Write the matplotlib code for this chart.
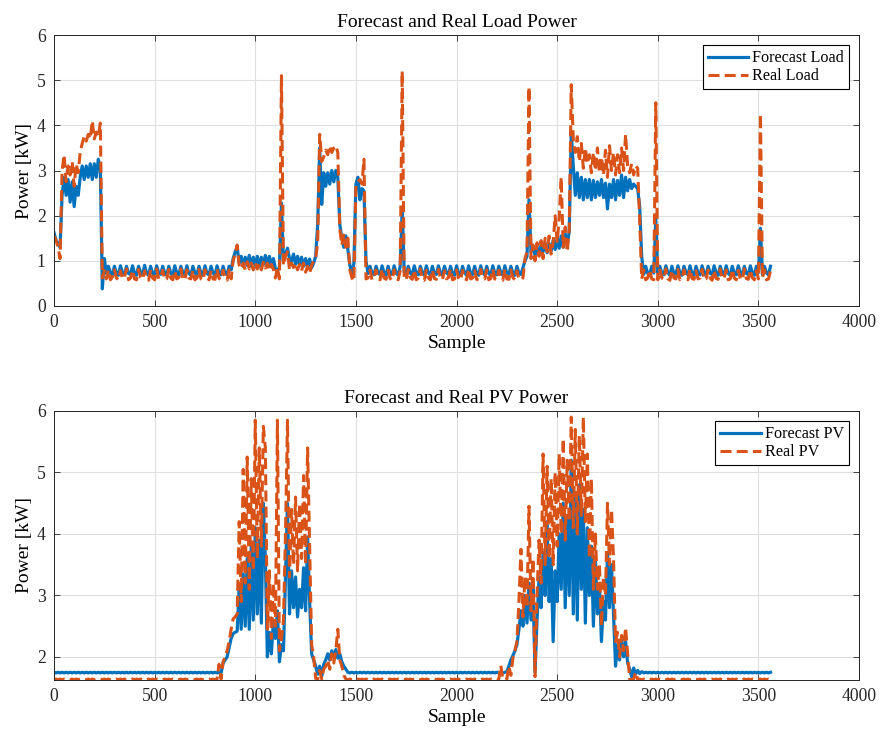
import numpy as np
import matplotlib.pyplot as plt

plt.rcParams['font.family'] = ['Liberation Serif', 'DejaVu Serif']

# sample index (every 10th sample)
sample = np.arange(0, 3570, 10)

load_forecast = [
    1.62, 1.45, 1.38, 1.30, 2.45, 2.85, 2.45, 2.80, 2.30, 2.75,   # 0
    2.20, 2.65, 2.45, 2.85, 3.10, 2.80, 3.10, 2.85, 3.15, 2.80,   # 100
    3.15, 2.85, 3.25, 3.05, 0.38, 1.05, 0.72, 0.88, 0.74, 0.69,   # 200
    0.88, 0.73, 0.68, 0.89, 0.74, 0.69, 0.88, 0.72, 0.70, 0.89,   # 300
    0.73, 0.68, 0.88, 0.74, 0.69, 0.90, 0.73, 0.68, 0.88, 0.72,   # 400
    0.69, 0.89, 0.74, 0.70, 0.88, 0.73, 0.68, 0.88, 0.72, 0.69,   # 500
    0.89, 0.73, 0.68, 0.88, 0.74, 0.69, 0.89, 0.72, 0.68, 0.88,   # 600
    0.73, 0.69, 0.88, 0.74, 0.68, 0.89, 0.72, 0.69, 0.88, 0.73,   # 700
    0.68, 0.89, 0.74, 0.69, 0.88, 0.72, 0.70, 0.88, 0.80, 1.05,   # 800
    1.20, 1.30, 0.95, 1.10, 0.88, 1.08, 0.90, 1.12, 0.88, 1.08,   # 900
    0.90, 1.10, 0.88, 1.08, 0.92, 1.12, 0.88, 1.10, 0.90, 1.05,   # 1000
    0.82, 0.78, 0.86, 2.28, 1.00, 1.15, 1.28, 1.05, 0.98, 1.15,   # 1100
    0.92, 1.10, 0.90, 1.08, 0.88, 1.05, 0.86, 1.04, 0.85, 0.95,   # 1200
    1.10, 1.80, 3.50, 2.25, 2.95, 2.65, 2.95, 2.70, 3.00, 2.75,   # 1300
    3.00, 2.85, 1.80, 1.50, 1.30, 1.55, 1.25, 0.90, 0.72, 0.95,   # 1400
    2.70, 2.85, 2.35, 2.60, 2.55, 1.00, 0.72, 0.88, 0.73, 0.69,   # 1500
    0.88, 0.74, 0.69, 0.89, 0.73, 0.68, 0.88, 0.72, 0.70, 0.89,   # 1600
    0.73, 0.68, 0.88, 2.15, 0.74, 0.69, 0.88, 0.73, 0.68, 0.89,   # 1700
    0.72, 0.69, 0.88, 0.74, 0.68, 0.89, 0.73, 0.69, 0.88, 0.72,   # 1800
    0.70, 0.89, 0.73, 0.68, 0.88, 0.74, 0.69, 0.88, 0.72, 0.68,   # 1900
    0.89, 0.73, 0.69, 0.88, 0.74, 0.68, 0.89, 0.72, 0.70, 0.88,   # 2000
    0.73, 0.68, 0.89, 0.74, 0.69, 0.88, 0.72, 0.68, 0.89, 0.73,   # 2100
    0.69, 0.88, 0.74, 0.68, 0.89, 0.72, 0.70, 0.88, 0.73, 0.68,   # 2200
    0.88, 0.73, 0.70, 0.85, 1.00, 1.10, 2.35, 1.20, 1.32, 1.12,   # 2300
    1.30, 1.15, 1.35, 1.20, 1.40, 1.18, 1.38, 1.22, 1.45, 1.25,   # 2400
    1.50, 1.28, 1.55, 1.30, 1.60, 1.35, 1.65, 3.85, 3.10, 2.45,   # 2500
    2.95, 2.40, 2.85, 2.35, 2.80, 2.40, 2.80, 2.35, 2.78, 2.40,   # 2600
    2.75, 2.45, 2.80, 2.40, 2.72, 2.15, 2.70, 2.40, 2.80, 2.35,   # 2700
    2.78, 2.45, 2.90, 2.40, 2.85, 2.55, 2.80, 2.60, 2.70, 2.65,   # 2800
    2.60, 2.20, 1.10, 0.70, 0.88, 0.72, 0.69, 0.88, 0.73, 1.92,   # 2900
    0.72, 0.88, 0.73, 0.69, 0.89, 0.74, 0.68, 0.88, 0.72, 0.70,   # 3000
    0.89, 0.73, 0.68, 0.88, 0.74, 0.69, 0.89, 0.72, 0.68, 0.88,   # 3100
    0.73, 0.69, 0.89, 0.74, 0.68, 0.88, 0.72, 0.70, 0.89, 0.73,   # 3200
    0.68, 0.88, 0.74, 0.69, 0.89, 0.72, 0.68, 0.88, 0.73, 0.69,   # 3300
    0.89, 0.74, 0.68, 0.88, 0.72, 0.70, 0.89, 0.73, 0.68, 0.88,   # 3400
    0.74, 1.72, 0.70, 0.88, 0.73, 0.69, 0.88,                     # 3500
]

load_real = [
    1.55, 1.45, 1.30, 1.05, 3.00, 3.35, 2.75, 3.10, 2.90, 3.20,   # 0
    2.65, 3.15, 2.95, 3.40, 3.60, 3.75, 3.65, 3.80, 3.70, 4.10,   # 100
    3.70, 3.85, 3.75, 4.05, 0.62, 0.78, 0.60, 0.80, 0.58, 0.64,   # 200
    0.80, 0.62, 0.58, 0.78, 0.60, 0.64, 0.82, 0.58, 0.62, 0.79,   # 300
    0.60, 0.58, 0.81, 0.63, 0.59, 0.78, 0.61, 0.57, 0.80, 0.62,   # 400
    0.58, 0.82, 0.60, 0.64, 0.79, 0.58, 0.60, 0.81, 0.62, 0.58,   # 500
    0.78, 0.60, 0.63, 0.82, 0.59, 0.58, 0.80, 0.62, 0.60, 0.79,   # 600
    0.58, 0.62, 0.81, 0.60, 0.57, 0.80, 0.63, 0.58, 0.78, 0.60,   # 700
    0.59, 0.82, 0.61, 0.58, 0.79, 0.62, 0.57, 0.80, 0.60, 1.00,   # 800
    1.15, 1.35, 0.90, 0.82, 0.95, 0.80, 0.98, 0.82, 0.95, 0.80,   # 900
    0.96, 0.82, 0.94, 0.80, 0.97, 0.84, 0.95, 0.78, 0.92, 0.82,   # 1000
    0.62, 0.85, 0.60, 5.10, 0.90, 1.10, 1.20, 0.80, 0.95, 0.85,   # 1100
    0.95, 0.80, 0.92, 0.78, 0.95, 0.75, 0.88, 0.72, 0.90, 1.00,   # 1200
    1.05, 1.40, 3.80, 3.20, 3.30, 3.45, 3.35, 3.55, 3.40, 3.50,   # 1300
    3.55, 3.40, 1.70, 1.35, 1.60, 1.30, 1.50, 0.80, 0.62, 0.55,   # 1400
    2.70, 2.75, 2.80, 2.70, 3.25, 0.60, 0.62, 0.80, 0.58, 0.62,   # 1500
    0.80, 0.60, 0.58, 0.82, 0.62, 0.59, 0.79, 0.61, 0.57, 0.80,   # 1600
    0.62, 0.58, 0.78, 5.20, 0.60, 0.58, 0.81, 0.63, 0.59, 0.80,   # 1700
    0.58, 0.62, 0.82, 0.60, 0.57, 0.79, 0.62, 0.58, 0.80, 0.61,   # 1800
    0.59, 0.81, 0.62, 0.58, 0.78, 0.60, 0.63, 0.82, 0.58, 0.60,   # 1900
    0.80, 0.62, 0.57, 0.79, 0.61, 0.58, 0.82, 0.60, 0.62, 0.78,   # 2000
    0.59, 0.58, 0.81, 0.62, 0.60, 0.80, 0.58, 0.61, 0.82, 0.60,   # 2100
    0.58, 0.79, 0.62, 0.57, 0.81, 0.60, 0.59, 0.80, 0.63, 0.58,   # 2200
    0.78, 0.60, 0.58, 0.62, 1.05, 1.20, 4.85, 1.05, 1.35, 1.00,   # 2300
    1.40, 1.10, 1.45, 1.05, 1.50, 1.20, 1.55, 1.15, 1.40, 2.00,   # 2400
    1.40, 1.95, 2.85, 1.30, 1.75, 1.20, 1.70, 4.90, 3.70, 3.40,   # 2500
    3.75, 3.20, 3.60, 3.05, 3.50, 3.15, 3.35, 2.95, 3.40, 3.00,   # 2600
    3.50, 2.95, 3.30, 2.90, 3.45, 2.85, 3.55, 3.00, 3.40, 2.90,   # 2700
    3.35, 2.95, 3.50, 3.00, 3.80, 3.10, 2.95, 3.15, 2.90, 3.10,   # 2800
    3.05, 1.90, 0.60, 0.80, 0.58, 0.62, 0.80, 0.60, 0.58, 4.50,   # 2900
    0.58, 0.80, 0.62, 0.59, 0.82, 0.60, 0.57, 0.79, 0.62, 0.60,   # 3000
    0.81, 0.58, 0.62, 0.80, 0.60, 0.58, 0.82, 0.61, 0.59, 0.78,   # 3100
    0.60, 0.62, 0.81, 0.58, 0.60, 0.80, 0.62, 0.57, 0.79, 0.61,   # 3200
    0.59, 0.82, 0.60, 0.63, 0.80, 0.58, 0.60, 0.81, 0.62, 0.58,   # 3300
    0.79, 0.60, 0.58, 0.82, 0.61, 0.59, 0.80, 0.62, 0.58, 0.78,   # 3400
    0.60, 4.25, 0.62, 0.80, 0.58, 0.60, 0.78,                     # 3500
]

pv_forecast = [
    1.75, 1.74, 1.75, 1.74, 1.75, 1.74, 1.75, 1.74, 1.75, 1.74,   # 0
    1.75, 1.74, 1.75, 1.74, 1.75, 1.74, 1.75, 1.74, 1.75, 1.74,   # 100
    1.75, 1.74, 1.75, 1.74, 1.75, 1.74, 1.75, 1.74, 1.75, 1.74,   # 200
    1.75, 1.74, 1.75, 1.74, 1.75, 1.74, 1.75, 1.74, 1.75, 1.74,   # 300
    1.75, 1.74, 1.75, 1.74, 1.75, 1.74, 1.75, 1.74, 1.75, 1.74,   # 400
    1.75, 1.74, 1.75, 1.74, 1.75, 1.74, 1.75, 1.74, 1.75, 1.74,   # 500
    1.75, 1.74, 1.75, 1.74, 1.75, 1.74, 1.75, 1.74, 1.75, 1.74,   # 600
    1.75, 1.74, 1.75, 1.74, 1.75, 1.74, 1.75, 1.74, 1.75, 1.74,   # 700
    1.75, 1.74, 1.75, 1.74, 1.90, 1.95, 2.00, 2.15, 2.30, 2.38,   # 800
    2.40, 2.42, 3.15, 2.45, 3.35, 2.50, 3.60, 2.45, 3.80, 2.60,   # 900
    4.10, 2.70, 3.90, 2.55, 4.50, 3.60, 2.00, 2.40, 2.05, 2.60,   # 1000
    2.30, 2.75, 1.92, 2.20, 2.10, 3.30, 4.50, 2.70, 3.40, 2.80,   # 1100
    3.30, 2.65, 3.10, 2.80, 3.45, 2.75, 3.95, 2.90, 2.05, 1.95,   # 1200
    1.85, 1.72, 1.85, 1.68, 1.88, 1.95, 2.05, 1.95, 2.10, 2.00,   # 1300
    2.12, 1.98, 2.05, 1.92, 1.85, 1.80, 1.75, 1.74, 1.75, 1.74,   # 1400
    1.75, 1.74, 1.75, 1.74, 1.75, 1.74, 1.75, 1.74, 1.75, 1.74,   # 1500
    1.75, 1.74, 1.75, 1.74, 1.75, 1.74, 1.75, 1.74, 1.75, 1.74,   # 1600
    1.75, 1.74, 1.75, 1.74, 1.75, 1.74, 1.75, 1.74, 1.75, 1.74,   # 1700
    1.75, 1.74, 1.75, 1.74, 1.75, 1.74, 1.75, 1.74, 1.75, 1.74,   # 1800
    1.75, 1.74, 1.75, 1.74, 1.75, 1.74, 1.75, 1.74, 1.75, 1.74,   # 1900
    1.75, 1.74, 1.75, 1.74, 1.75, 1.74, 1.75, 1.74, 1.75, 1.74,   # 2000
    1.75, 1.74, 1.75, 1.74, 1.75, 1.74, 1.75, 1.74, 1.75, 1.74,   # 2100
    1.75, 1.74, 1.75, 1.74, 1.75, 1.76, 1.85, 1.95, 2.02, 2.10,   # 2200
    2.20, 2.45, 2.75, 2.50, 3.00, 2.55, 3.20, 2.60, 3.10, 1.75,   # 2300
    2.60, 3.30, 2.80, 3.70, 3.00, 4.20, 2.90, 3.60, 2.25, 3.40,   # 2400
    2.90, 4.00, 3.10, 4.50, 2.80, 4.30, 3.00, 5.20, 2.70, 4.60,   # 2500
    2.60, 4.80, 3.10, 4.40, 2.55, 4.10, 3.00, 3.80, 2.50, 3.60,   # 2600
    2.70, 3.15, 2.25, 2.90, 2.60, 3.70, 2.80, 3.50, 2.70, 1.85,   # 2700
    2.20, 1.95, 2.30, 2.00, 2.25, 1.90, 1.80, 1.68, 1.82, 1.72,   # 2800
    1.78, 1.73, 1.76, 1.74, 1.75, 1.74, 1.75, 1.74, 1.75, 1.74,   # 2900
    1.75, 1.74, 1.75, 1.74, 1.75, 1.74, 1.75, 1.74, 1.75, 1.74,   # 3000
    1.75, 1.74, 1.75, 1.74, 1.75, 1.74, 1.75, 1.74, 1.75, 1.74,   # 3100
    1.75, 1.74, 1.75, 1.74, 1.75, 1.74, 1.75, 1.74, 1.75, 1.74,   # 3200
    1.75, 1.74, 1.75, 1.74, 1.75, 1.74, 1.75, 1.74, 1.75, 1.74,   # 3300
    1.75, 1.74, 1.75, 1.74, 1.75, 1.74, 1.75, 1.74, 1.75, 1.74,   # 3400
    1.75, 1.74, 1.75, 1.74, 1.75, 1.74, 1.75,                     # 3500
]

pv_real = [
    1.63, 1.64, 1.63, 1.64, 1.63, 1.64, 1.63, 1.64, 1.63, 1.64,   # 0
    1.63, 1.64, 1.63, 1.64, 1.63, 1.64, 1.63, 1.64, 1.63, 1.64,   # 100
    1.63, 1.64, 1.63, 1.64, 1.63, 1.64, 1.63, 1.64, 1.63, 1.64,   # 200
    1.63, 1.64, 1.63, 1.64, 1.63, 1.64, 1.63, 1.64, 1.63, 1.64,   # 300
    1.63, 1.64, 1.63, 1.64, 1.63, 1.64, 1.63, 1.64, 1.63, 1.64,   # 400
    1.63, 1.64, 1.63, 1.64, 1.63, 1.64, 1.63, 1.64, 1.63, 1.64,   # 500
    1.63, 1.64, 1.63, 1.64, 1.63, 1.64, 1.63, 1.64, 1.63, 1.64,   # 600
    1.63, 1.64, 1.63, 1.64, 1.63, 1.64, 1.63, 1.64, 1.63, 1.64,   # 700
    1.63, 1.64, 1.88, 1.64, 1.92, 2.00, 2.10, 2.25, 2.45, 2.62,   # 800
    2.65, 2.70, 4.20, 2.90, 5.05, 3.20, 5.25, 3.10, 4.90, 3.40,   # 900
    5.85, 3.60, 5.40, 3.80, 5.75, 5.40, 2.45, 3.40, 2.30, 3.20,   # 1000
    2.50, 5.85, 2.10, 2.30, 2.60, 4.00, 5.85, 3.30, 4.40, 3.50,   # 1100
    4.60, 3.40, 4.50, 3.60, 4.95, 3.50, 5.40, 3.80, 2.20, 2.00,   # 1200
    1.65, 1.63, 1.78, 1.64, 1.80, 1.85, 1.95, 1.80, 2.05, 1.90,   # 1300
    2.10, 2.45, 1.95, 1.85, 1.70, 1.64, 1.63, 1.64, 1.63, 1.64,   # 1400
    1.63, 1.64, 1.63, 1.64, 1.63, 1.64, 1.63, 1.64, 1.63, 1.64,   # 1500
    1.63, 1.64, 1.63, 1.64, 1.63, 1.64, 1.63, 1.64, 1.63, 1.64,   # 1600
    1.63, 1.64, 1.63, 1.64, 1.63, 1.64, 1.63, 1.64, 1.63, 1.64,   # 1700
    1.63, 1.64, 1.63, 1.64, 1.63, 1.64, 1.63, 1.64, 1.63, 1.64,   # 1800
    1.63, 1.64, 1.63, 1.64, 1.63, 1.64, 1.63, 1.64, 1.63, 1.64,   # 1900
    1.63, 1.64, 1.63, 1.64, 1.63, 1.64, 1.63, 1.64, 1.63, 1.64,   # 2000
    1.63, 1.64, 1.63, 1.64, 1.63, 1.64, 1.63, 1.64, 1.63, 1.64,   # 2100
    1.63, 1.64, 1.86, 1.64, 1.63, 1.64, 1.85, 1.70, 1.98, 2.10,   # 2200
    2.25, 2.90, 3.75, 2.65, 3.30, 2.80, 4.45, 2.75, 3.60, 1.68,   # 2300
    3.00, 3.90, 3.20, 5.30, 3.50, 5.10, 3.60, 4.90, 3.50, 5.00,   # 2400
    3.80, 5.30, 4.00, 5.55, 3.90, 5.20, 4.20, 5.90, 4.10, 5.70,   # 2500
    4.00, 5.60, 4.30, 5.90, 4.20, 5.30, 3.60, 4.90, 3.10, 4.00,   # 2600
    3.10, 3.50, 2.50, 3.30, 3.00, 4.50, 3.50, 4.40, 3.60, 2.25,   # 2700
    2.40, 2.00, 2.35, 2.10, 2.48, 2.05, 1.64, 1.63, 1.64, 1.75,   # 2800
    1.63, 1.64, 1.63, 1.64, 1.63, 1.64, 1.63, 1.64, 1.63, 1.64,   # 2900
    1.63, 1.64, 1.63, 1.64, 1.63, 1.64, 1.63, 1.64, 1.63, 1.64,   # 3000
    1.63, 1.64, 1.63, 1.64, 1.63, 1.64, 1.63, 1.64, 1.63, 1.64,   # 3100
    1.63, 1.64, 1.63, 1.64, 1.63, 1.64, 1.63, 1.64, 1.63, 1.64,   # 3200
    1.63, 1.64, 1.63, 1.64, 1.63, 1.64, 1.63, 1.64, 1.63, 1.64,   # 3300
    1.63, 1.64, 1.63, 1.64, 1.63, 1.64, 1.63, 1.64, 1.63, 1.64,   # 3400
    1.63, 1.64, 1.63, 1.64, 1.63, 1.64, 1.63,                     # 3500
]

blue = '#0072BD'
orange = '#D95319'
dark = '#262626'

fig = plt.figure(figsize=(8.8, 7.31), dpi=100)
ax1 = fig.add_axes([0.0614, 0.5814, 0.9148, 0.3707])
ax2 = fig.add_axes([0.0614, 0.0698, 0.9148, 0.3680])


def style(ax, title, ylim, yticks, names, forecast, real):
    ax.plot(sample, forecast, color=blue, lw=2.3, label=names[0])
    ax.plot(sample, real, color=orange, lw=2.2, linestyle=(0, (3.6, 1.7)),
            label=names[1])
    ax.set_xlim(0, 4000)
    ax.set_ylim(*ylim)
    ax.set_xticks(np.arange(0, 4001, 500))
    ax.set_yticks(yticks)
    ax.grid(True, color='#dfdfdf', lw=0.8)
    ax.set_axisbelow(True)
    ax.tick_params(direction='in', top=True, right=True, length=4,
                   width=0.6, labelsize=12.7, colors=dark, labelcolor=dark,
                   pad=6)
    for sp in ax.spines.values():
        sp.set_color(dark)
        sp.set_linewidth(0.7)
    ax.set_title(title, fontsize=14, pad=6)
    ax.set_xlabel('Sample', fontsize=14, labelpad=3)
    ax.set_ylabel('Power [kW]', fontsize=14, labelpad=3)
    leg = ax.legend(loc='upper right', fontsize=11.6, fancybox=False,
                    edgecolor='black', framealpha=1, handlelength=2.5,
                    handletextpad=0.25, borderpad=0.3, labelspacing=0.12,
                    borderaxespad=0.65)
    leg.get_frame().set_linewidth(0.8)


style(ax1, 'Forecast and Real Load Power', (0, 6), np.arange(0, 7, 1),
      ['Forecast Load', 'Real Load'], load_forecast, load_real)
style(ax2, 'Forecast and Real PV Power', (1.625, 6), np.arange(2, 7, 1),
      ['Forecast PV', 'Real PV'], pv_forecast, pv_real)

fig.savefig('out.png', dpi=100)
